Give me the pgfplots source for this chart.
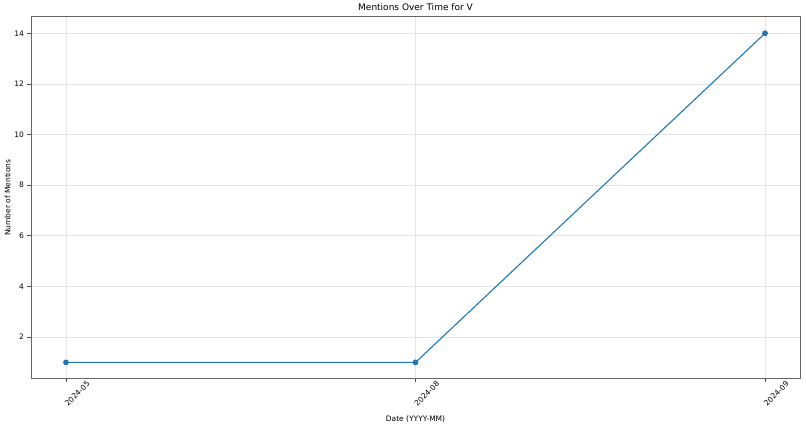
\documentclass[border=0pt]{standalone}
\usepackage{pgfplots}
\pgfplotsset{compat=1.18}
\usepackage{fontspec}
\setmainfont{DejaVu Sans}
\definecolor{mplblue}{HTML}{1F77B4}
\begin{document}
\begin{tikzpicture}[x=1pt,y=1pt]
\begin{axis}[
  at={(0,0)}, anchor=south west,
  scale only axis, width=769pt, height=362pt,
  xmin=-0.1, xmax=2.1, ymin=0.35, ymax=14.65,
  xtick={0,1,2}, xticklabels={2024-05,2024-08,2024-09},
  ytick={2,4,6,8,10,12,14},
  x tick label style={rotate=45, anchor=center, yshift=-16pt, font=\fontsize{7.5}{9}\selectfont, inner sep=0pt},
  y tick label style={font=\fontsize{7.5}{9}\selectfont},
  /pgf/number format/assume math mode=true,
  tick align=outside, tick pos=left,
  major tick length=3.5pt,
  tick style={black!70, line width=0.6pt},
  axis line style={black!60, line width=0.8pt},
  grid=major, major grid style={black!10, line width=0.6pt},
  title={Mentions Over Time for V},
  title style={font=\fontsize{9}{11}\selectfont, yshift=-3pt},
  xlabel={Date (YYYY-MM)},
  ylabel={Number of Mentions},
  label style={font=\fontsize{7.5}{9}\selectfont},
  xlabel style={at={(axis description cs:0.5,0)}, anchor=base, yshift=-43pt},
  ylabel style={yshift=-3pt},
]
\addplot[color=mplblue, line width=1.1pt, mark=*, mark size=2.3pt] coordinates {(0,1) (1,1) (2,14)};
\end{axis}
\path[use as bounding box] (-31,-49) rectangle (775,378);
\end{tikzpicture}
\end{document}
